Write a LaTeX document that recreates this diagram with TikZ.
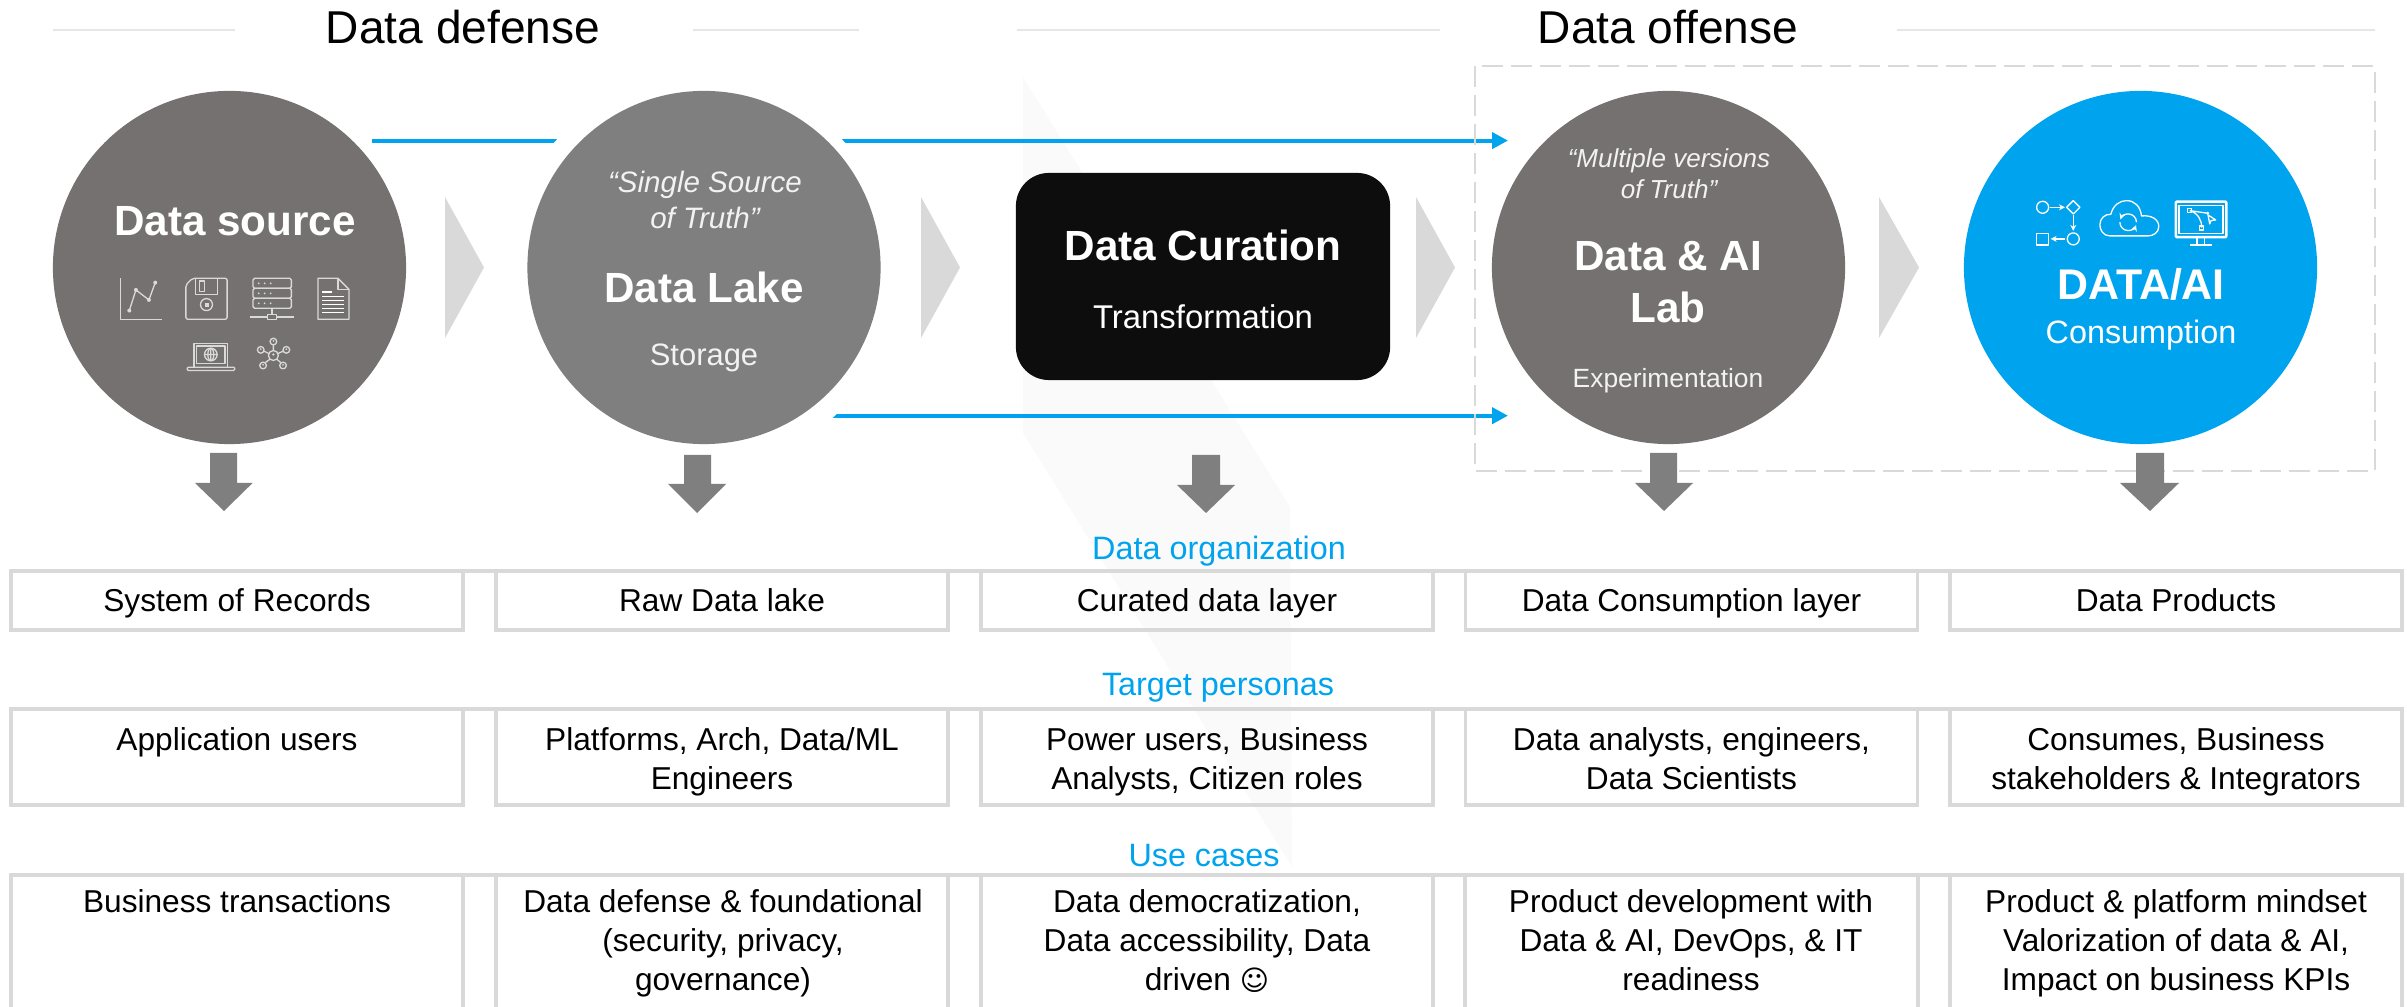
\documentclass[tikz,border=0pt]{standalone}
\usepackage{fontspec}
\usepackage{xcolor}
\usepackage{tikz}
\setmainfont{Liberation Sans}
\newfontfamily\symbolfont{DejaVu Sans}
\usetikzlibrary{arrows.meta,positioning,calc}
\definecolor{sourcegray}{HTML}{767171}
\definecolor{lakegray}{HTML}{7F7F7F}
\definecolor{curationblack}{HTML}{0D0D0D}
\definecolor{aiblue}{HTML}{00A3EE}
\definecolor{linegray}{HTML}{D9D9D9}
\definecolor{headgray}{HTML}{E7E6E6}
\definecolor{palegray}{HTML}{FAFAFA}
\definecolor{softwhite}{HTML}{F2F2F2}
\newcommand{\firstline}{\rule{0pt}{9.2pt}}
\tikzset{bigcircle/.style={circle, inner sep=0pt, outer sep=0pt, minimum size=3.53cm}}
\tikzset{cell/.style={rectangle, draw=linegray, line width=.35mm, inner sep=0pt, outer sep=0pt, minimum width=4.52cm, align=center, font=\fontsize{9}{11}\selectfont, execute at begin node=\rule{0pt}{8.5pt}, execute at end node=\rule[-2pt]{0pt}{0pt}}}
\tikzset{celltext/.style={align=center, inner sep=0pt, font=\fontsize{9}{11.1}\selectfont}}
\tikzset{opencell/.style={draw=linegray, line width=.35mm}}
\tikzset{title/.style={inner sep=0pt, anchor=base, font=\fontsize{13.1}{15}\selectfont}}
\tikzset{rowlabel/.style={inner sep=0pt, anchor=base, text=aiblue, font=\fontsize{9.2}{11}\selectfont}}
\tikzset{headline/.style={draw=headgray, line width=.2mm}}
\tikzset{head/.style={align=center, inner sep=0pt, text=white, font=\fontsize{12}{15}\selectfont\bfseries}}
\tikzset{sub/.style={align=center, inner sep=0pt, text=softwhite}}
\tikzset{quote/.style={align=center, inner sep=0pt, text=softwhite, font=\itshape}}
\tikzset{flow/.style={draw=aiblue, line width=.4mm, -{Triangle[length=1.6mm,width=1.6mm]}}}
\tikzset{chevron/.style={fill=linegray}}
\tikzset{drop/.style={fill=lakegray}}
\tikzset{glyph/.style={draw=linegray, line width=.13mm, line join=round}}
\tikzset{glyphw/.style={draw=white, line width=.13mm, line join=round}}
\begin{document}
\begin{tikzpicture}[x=.01cm,y=-.01cm]
		\useasboundingbox (0,0) rectangle (2407,1007);
		\fill[palegray] (1023,77) -- (1290,507) -- (1292,867) -- (1023,433) -- cycle;
		\node[title] (defense) at (463,44) {Data defense};
		\node[title] (offense) at (1668,44) {Data offense};
		\draw[headline] (53,30) -- (235,30);
		\draw[headline] (693,30) -- (859,30);
		\draw[headline] (1017,30) -- (1440,30);
		\draw[headline] (1897,30) -- (2375,30);
		\coordinate (topstart) at (372,140.6);
		\coordinate (topend) at (1508,140.6);
		\coordinate (botstart) at (760,415.7);
		\coordinate (botend) at (1508,415.7);
		\draw[flow] (topstart) -- (topend);
		\draw[flow] (botstart) -- (botend);
		\draw[linegray,line width=.25mm,dash pattern=on 2.1mm off .8mm] (1475,66) rectangle (2375,471);
		\fill[chevron] (445,197) -- (484,267.5) -- (445,338) -- cycle;
		\fill[chevron] (921,197) -- (960,267.5) -- (921,338) -- cycle;
		\fill[chevron] (1416,197) -- (1455,267.5) -- (1416,338) -- cycle;
		\fill[chevron] (1879,197) -- (1919,267.5) -- (1879,338) -- cycle;
		\fill[white] (699.5,274) circle (196);
		\node[bigcircle,fill=sourcegray] (source) at (229.5,267.5) {};
		\node[bigcircle,fill=lakegray] (lake) at (704,267.5) {};
		\node[rectangle,rounded corners=.33cm,fill=curationblack,inner sep=0pt,outer sep=0pt,minimum width=3.74cm,minimum height=2.07cm] (curation) at (1203,276.5) {};
		\node[bigcircle,fill=sourcegray] (lab) at (1668.5,267.5) {};
		\node[bigcircle,fill=aiblue] (consumption) at (2140.5,267.5) {};
		\node[head] (sourcename) at (235,221) {Data source};
		\node[quote,font=\fontsize{8.4}{10.2}\selectfont\itshape] (lakequote) at (705,200) {“Single Source\\of Truth”};
		\node[head] (lakename) at (704,287) {Data Lake};
		\node[sub,font=\fontsize{8.8}{10}\selectfont] (lakesub) at (704,358) {Storage};
		\node[head] (curationname) at (1203,245) {Data Curation};
		\node[sub,text=white,font=\fontsize{9.35}{11}\selectfont] (curationsub) at (1203,317) {Transformation};
		\node[quote,font=\fontsize{7.4}{8.8}\selectfont\itshape] (labquote) at (1669,174) {“Multiple versions\\of Truth”};
		\node[head] (labname) at (1668,282) {Data \& AI\\Lab};
		\node[sub,font=\fontsize{7.5}{9}\selectfont] (labsub) at (1668,381) {Experimentation};
		\node[head,font=\fontsize{12.2}{15}\selectfont\bfseries] (ainame) at (2141,284) {DATA/AI};
		\node[sub,text=white,font=\fontsize{9.2}{11}\selectfont] (aisub) at (2141,335) {Consumption};
		\begin{scope}[shift={(100,260)},x=.00333cm,y=-.00333cm]
			\draw[glyph] (62,55) -- (62,178) -- (185,178);
			\draw[glyph] (88,152) -- (108,90) -- (147,120) -- (166,68);
			\fill[linegray] (88,152) circle (6) (108,90) circle (6) (147,120) circle (6) (166,68) circle (6);
			\draw[glyph,rounded corners=.02cm] (258,178) -- (258,75) -- (278,55) -- (382,55) -- (382,178) -- cycle;
			\draw[glyph] (287,55) -- (287,103) -- (353,103) -- (353,55);
			\draw[glyph] (300,63) rectangle (313,95);
			\draw[glyph] (320,134) circle (18);
			\fill[linegray] (315,129) rectangle (327,141);
			\draw[glyph,rounded corners=.015cm] (460,55) rectangle (575,85);
			\draw[glyph,rounded corners=.015cm] (460,85) rectangle (575,115);
			\draw[glyph,rounded corners=.015cm] (460,115) rectangle (575,145);
			\fill[linegray] (477,70) circle (3) (495,70) circle (3) (513,70) circle (3);
			\fill[linegray] (477,100) circle (3) (495,100) circle (3) (513,100) circle (3);
			\fill[linegray] (477,130) circle (3) (495,130) circle (3) (513,130) circle (3);
			\draw[glyph] (517,145) -- (517,163);
			\draw[glyph] (450,171) -- (503,171) (530,171) -- (582,171);
			\draw[glyph] (503,163) rectangle (530,178);
			\draw[glyph] (655,55) -- (715,55) -- (748,88) -- (748,178) -- (655,178) -- cycle;
			\draw[glyph] (715,55) -- (715,88) -- (748,88);
			\fill[white] (668,94) rectangle (698,99);
			\fill[white] (668,107) rectangle (732,112);
			\fill[white] (668,119) rectangle (732,124);
			\fill[white] (668,131) rectangle (732,136);
			\fill[white] (668,143) rectangle (732,148);
			\fill[white] (668,155) rectangle (732,160);
			\draw[glyph] (282,322) -- (282,250) -- (384,250) -- (384,322);
			\draw[glyph] (290,258) rectangle (376,312);
			\draw[glyph] (333,284) circle (19) (314,284) -- (352,284) (333,265) -- (333,303);
			\draw[glyph] (333,284) ellipse (9 and 19);
			\draw[glyph,rounded corners=.012cm] (262,322) rectangle (405,332);
			\draw[glyph] (521,255) -- (521,272) (493,274) -- (507,281) (550,274) -- (535,281) (497,308) -- (511,298) (543,308) -- (531,298);
			\draw[glyph] (521,287) circle (15) (521,245) circle (10) (483,270) circle (10) (560,270) circle (10) (490,317) circle (10) (550,317) circle (10);
			\fill[linegray] (521,284) circle (4) (521,243) circle (3) (483,268) circle (3) (560,268) circle (3) (490,315) circle (3) (550,315) circle (3);
		\end{scope}
		\begin{scope}[shift={(2010,180)},x=.00333cm,y=-.00333cm,>={Stealth[length=.6mm,width=.6mm]}]
			\draw[glyphw] (98,82) circle (18);
			\draw[glyphw,->] (120,82) -- (165,82);
			\draw[glyphw] (190,62) -- (210,82) -- (190,102) -- (170,82) -- cycle;
			\draw[glyphw,->] (190,106) -- (190,153);
			\draw[glyphw] (190,177) circle (18);
			\draw[glyphw,->] (165,177) -- (122,177);
			\draw[glyphw] (80,160) rectangle (116,195);
			\draw[glyphw] (300,168) .. controls (280,168) and (270,150) .. (270,135) .. controls (270,115) and (285,102) .. (303,103) .. controls (310,75) and (330,62) .. (350,62) .. controls (375,62) and (392,80) .. (395,108) .. controls (425,105) and (447,118) .. (447,140) .. controls (447,158) and (430,168) .. (415,168) -- cycle;
			\draw[glyphw,->] (330,127) arc (180:20:25);
			\draw[glyphw,->] (380,127) arc (0:-160:25);
			\draw[glyphw,line width=.25mm,rounded corners=.01cm] (498,65) rectangle (650,172);
			\draw[glyphw] (508,76) rectangle (640,160);
			\draw[glyphw] (562,172) -- (562,193) (585,172) -- (585,193);
			\draw[glyphw,line width=.2mm] (540,194) -- (608,194);
			\draw[glyphw] (540,92) -- (594,100) (540,92) .. controls (565,100) and (576,120) .. (576,143);
			\draw[glyphw] (534,86) rectangle (546,98) (570,138) rectangle (582,150);
			\draw[glyphw] (595,105) -- (618,120) -- (604,122) -- (600,132) -- cycle;
			\fill[white] (594,100) circle (5);
		\end{scope}
		\fill[drop] (210,453) -- (237,453) -- (237,483) -- (252.6,483) -- (224,511) -- (195,483) -- (210,483) -- cycle;
		\fill[drop] (684,455) -- (711,455) -- (711,484) -- (726,484) -- (697,513) -- (668,484) -- (684,484) -- cycle;
		\fill[drop] (1192,455) -- (1220,455) -- (1220,485) -- (1235,485) -- (1206,513) -- (1177,485) -- (1192,485) -- cycle;
		\fill[drop] (1650,453) -- (1677,453) -- (1677,483) -- (1693,483) -- (1664,511) -- (1635,483) -- (1650,483) -- cycle;
		\fill[drop] (2136,453) -- (2164,453) -- (2164,483) -- (2179,483) -- (2150,511) -- (2120,483) -- (2136,483) -- cycle;
		\node[rowlabel] (organization) at (1219,559.5) {Data organization};
		\node[cell,minimum height=.59cm] (records) at (237,600.5) {System of Records};
		\node[cell,minimum height=.59cm] (rawlake) at (722,600.5) {Raw Data lake};
		\node[cell,minimum height=.59cm] (curated) at (1207,600.5) {Curated data layer};
		\node[cell,minimum height=.59cm] (layer) at (1691.5,600.5) {Data Consumption layer};
		\node[cell,minimum height=.59cm] (products) at (2176,600.5) {Data Products};
		\draw[opencell] (records.north west) -- (products.north east);
		\node[rowlabel] (personas) at (1218,695.5) {Target personas};
		\node[cell,minimum height=.96cm] (appusers) at (237,757) {\firstline Application users\\~};
		\node[cell,minimum height=.96cm] (engineers) at (722,757) {\firstline Platforms, Arch, Data/ML\\Engineers};
		\node[cell,minimum height=.96cm] (power) at (1207,757) {\firstline Power users, Business\\Analysts, Citizen roles};
		\node[cell,minimum height=.96cm] (analysts) at (1691.5,757) {\firstline Data analysts, engineers,\\Data Scientists};
		\node[cell,minimum height=.96cm] (consumers) at (2176,757) {\firstline Consumes, Business\\stakeholders \& Integrators};
		\draw[opencell] (appusers.north west) -- (consumers.north east);
		\node[rowlabel] (usecases) at (1204,866) {Use cases};
		\draw[opencell] (11,1007) |- (2402,875) -- (2402,1007);
		\draw[opencell] (463,875) -- (463,1007);
		\draw[opencell] (496,875) -- (496,1007);
		\draw[opencell] (948,875) -- (948,1007);
		\draw[opencell] (981,875) -- (981,1007);
		\draw[opencell] (1433,875) -- (1433,1007);
		\draw[opencell] (1465,875) -- (1465,1007);
		\draw[opencell] (1918,875) -- (1918,1007);
		\draw[opencell] (1950,875) -- (1950,1007);
		\node[celltext,anchor=north] (transactions) at (237,889) {Business transactions};
		\node[celltext,anchor=north] (foundational) at (723,889) {Data defense \& foundational\\(security, privacy,\\governance)};
		\node[celltext,anchor=north] (democratization) at (1207,889) {Data democratization,\\Data accessibility, Data\\driven {\symbolfont\fontsize{8}{8}\selectfont ☺}};
		\node[celltext,anchor=north] (development) at (1691,889) {Product development with\\Data \& AI, DevOps, \& IT\\readiness};
		\node[celltext,anchor=north] (mindset) at (2176,889) {Product \& platform mindset\\Valorization of data \& AI,\\Impact on business KPIs};
		\end{tikzpicture}
\end{document}
